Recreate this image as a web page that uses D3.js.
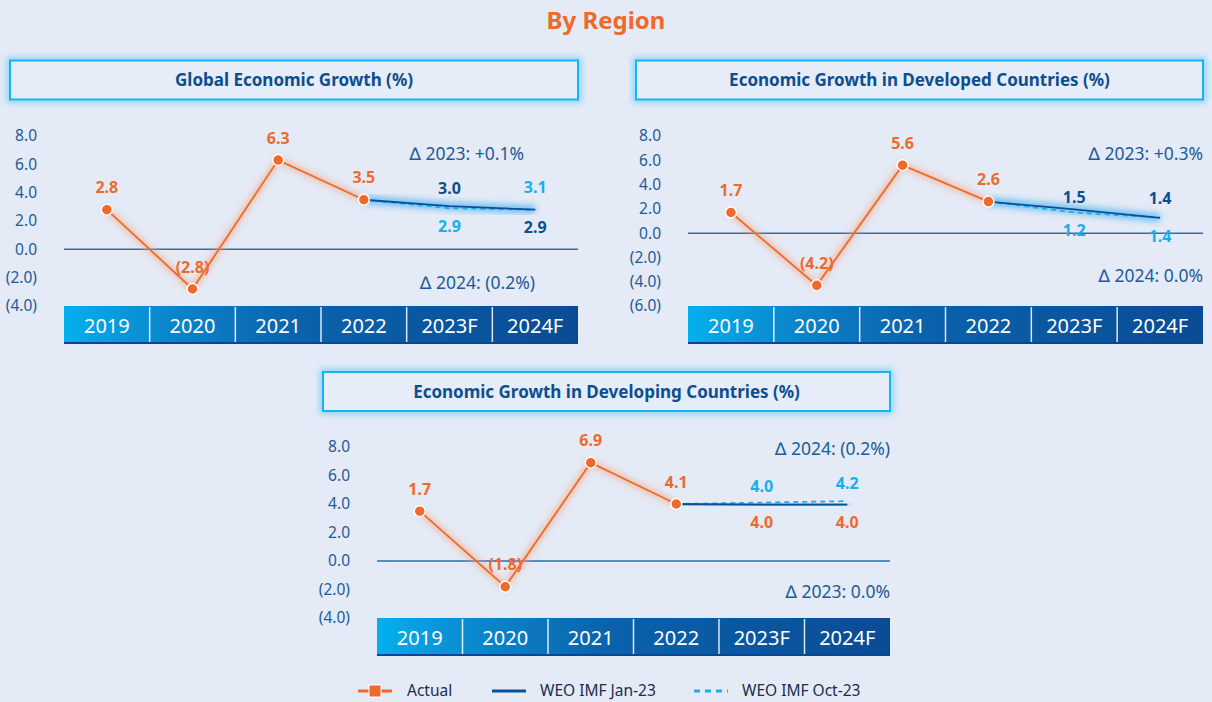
<!DOCTYPE html>
<html>
<head>
<meta charset="utf-8">
<script src="https://cdn.jsdelivr.net/npm/d3@7"></script>
<style>
	html, body { margin: 0; padding: 0; background: #e4eaf6; }
	svg { display: block; font-family: "Noto Sans", "DejaVu Sans", sans-serif; }
</style>
</head>
<body>
<div id="chart"></div>
<script>
// categories
var years = ['2019', '2020', '2021', '2022', '2023F', '2024F'];
var forecastYears = ['2022', '2023F', '2024F'];

// global
var globalTicks = [8, 6, 4, 2, 0, -2, -4];
var globalActual = [2.8, -2.8, 6.3, 3.5];
var globalActualLabels = ['2.8', '(2.8)', '6.3', '3.5'];
var globalJan = [3.5, 3.05, 2.8];
var globalOct = [3.5, 2.9, 2.8];
var globalTopLabels = [['3.0', 'jan'], ['3.1', 'oct']];
var globalBottomLabels = [['2.9', 'oct'], ['2.9', 'jan']];
var globalDeltas = ['\u2206 2023: +0.1%', '\u2206 2024: (0.2%)'];

// developed
var developedTicks = [8, 6, 4, 2, 0, -2, -4, -6];
var developedActual = [1.7, -4.3, 5.6, 2.6];
var developedActualLabels = ['1.7', '(4.2)', '5.6', '2.6'];
var developedJan = [2.6, 1.95, 1.25];
var developedOct = [2.6, 1.7, 1.3];
var developedTopLabels = [['1.5', 'jan'], ['1.4', 'jan']];
var developedBottomLabels = [['1.2', 'oct'], ['1.4', 'oct']];
var developedDeltas = ['\u2206 2023: +0.3%', '\u2206 2024: 0.0%'];

// developing
var developingTicks = [8, 6, 4, 2, 0, -2, -4];
var developingActual = [3.5, -1.8, 6.9, 4.0];
var developingActualLabels = ['1.7', '(1.8)', '6.9', '4.1'];
var developingJan = [4.0, 3.95, 3.95];
var developingOct = [4.0, 4.1, 4.2];
var developingTopLabels = [['4.0', 'oct'], ['4.2', 'oct']];
var developingBottomLabels = [['4.0', 'act'], ['4.0', 'act']];
var developingDeltas = ['\u2206 2024: (0.2%)', '\u2206 2023: 0.0%'];

var legendNames = ['Actual', 'WEO IMF Jan-23', 'WEO IMF Oct-23'];

var width = 1212;
var height = 702;
var orange = '#ee6a2b';
var darkBlue = '#0d4f8e';
var janBlue = '#0b4e9b';
var cyan = '#17b0ec';
var tickBlue = '#1d5b99';
var colorOf = {act: orange, jan: darkBlue, oct: cyan};

var svg = d3.select('#chart')
			.append('svg')
			.attr('width', width)
			.attr('height', height);

var defs = svg.append('defs');

var glow = defs.append('filter').attr('id', 'glow')
	.attr('x', '-20%').attr('y', '-50%').attr('width', '140%').attr('height', '200%');
glow.append('feGaussianBlur').attr('stdDeviation', 3);

var soft = defs.append('filter').attr('id', 'soft')
	.attr('x', '-10%').attr('y', '-200%').attr('width', '120%').attr('height', '500%');
soft.append('feGaussianBlur').attr('stdDeviation', 6);

var grad = defs.append('linearGradient').attr('id', 'band')
	.attr('x1', 0).attr('x2', 1).attr('y1', 0).attr('y2', 0);
grad.append('stop').attr('offset', '0%').attr('stop-color', '#03b0ee');
grad.append('stop').attr('offset', '20%').attr('stop-color', '#0b86cc');
grad.append('stop').attr('offset', '45%').attr('stop-color', '#0b62ac');
grad.append('stop').attr('offset', '100%').attr('stop-color', '#0a4b95');

// page title
svg.append('text')
	.attr('x', width / 2)
	.attr('y', 21)
	.attr('dy', '0.35em')
	.attr('text-anchor', 'middle')
	.attr('font-size', 24)
	.attr('font-weight', 'bold')
	.attr('fill', orange)
	.text('By Region');

function drawChart(c) {
	var g = svg.append('g');

	//header box
	g.append('rect')
		.attr('x', c.boxX).attr('y', c.boxY)
		.attr('width', c.boxW).attr('height', 39)
		.attr('fill', 'none')
		.attr('stroke', '#7fd3f5')
		.attr('stroke-width', 6)
		.attr('filter', 'url(#glow)');
	g.append('rect')
		.attr('x', c.boxX).attr('y', c.boxY)
		.attr('width', c.boxW).attr('height', 39)
		.attr('fill', '#e6ecf8')
		.attr('stroke', '#17b4ef')
		.attr('stroke-width', 2);
	g.append('text')
		.attr('x', c.boxX + c.boxW / 2)
		.attr('y', c.boxY + 20)
		.attr('dy', '0.35em')
		.attr('text-anchor', 'middle')
		.attr('font-size', 17)
		.attr('font-weight', 'bold')
		.attr('fill', darkBlue)
		.text(c.title);

	//scales
	var x_scale = d3.scaleBand()
		.domain(years)
		.range([c.left, c.right]);
	var y_scale = d3.scaleLinear()
		.domain([d3.min(c.ticks), d3.max(c.ticks)])
		.range([c.bandTop, c.top]);
	var cx = function(d) { return x_scale(d) + x_scale.bandwidth() / 2; };

	//tick labels
	g.selectAll('.tick')
		.data(c.ticks)
		.enter()
		.append('text')
		.attr('x', c.left - 27)
		.attr('y', function(d) { return y_scale(d); })
		.attr('dy', '0.35em')
		.attr('text-anchor', 'end')
		.attr('font-size', 15.5)
		.attr('fill', tickBlue)
		.text(function(d) {
			return d < 0 ? '(' + Math.abs(d).toFixed(1) + ')' : d.toFixed(1);
		});

	//zero line
	g.append('line')
		.attr('x1', c.left - 40).attr('x2', c.right)
		.attr('y1', y_scale(0)).attr('y2', y_scale(0))
		.attr('stroke', '#f4f7fd')
		.attr('stroke-width', 16)
		.attr('filter', 'url(#soft)');
	g.append('line')
		.attr('x1', c.left).attr('x2', c.right)
		.attr('y1', y_scale(0)).attr('y2', y_scale(0))
		.attr('stroke', '#2f6ea9')
		.attr('stroke-width', 1.5);

	//year band
	g.append('rect')
		.attr('x', c.left).attr('y', c.bandTop)
		.attr('width', c.right - c.left).attr('height', 38)
		.attr('fill', 'url(#band)');
	g.append('line')
		.attr('x1', c.left).attr('x2', c.right)
		.attr('y1', c.bandTop + 37).attr('y2', c.bandTop + 37)
		.attr('stroke', '#0a4790').attr('stroke-width', 2);
	g.selectAll('.sep')
		.data(years.slice(1))
		.enter()
		.append('line')
		.attr('x1', function(d) { return x_scale(d); })
		.attr('x2', function(d) { return x_scale(d); })
		.attr('y1', c.bandTop + 1)
		.attr('y2', c.bandTop + 36)
		.attr('stroke', '#ffffff')
		.attr('stroke-opacity', 0.85)
		.attr('stroke-width', 1.5);
	g.selectAll('.year')
		.data(years)
		.enter()
		.append('text')
		.attr('x', cx)
		.attr('y', c.bandTop + 20)
		.attr('dy', '0.36em')
		.attr('text-anchor', 'middle')
		.attr('font-size', 20)
		.attr('fill', '#ffffff')
		.text(function(d) { return d; });

	//forecast lines
	var fLine = d3.line()
		.x(function(d, i) { return cx(forecastYears[i]); })
		.y(function(d) { return y_scale(d); });

	g.append('path').attr('d', fLine(c.jan))
		.attr('fill', 'none').attr('stroke', '#4fb4ee')
		.attr('stroke-width', 8).attr('stroke-opacity', 0.8)
		.attr('filter', 'url(#glow)');
	g.append('path').attr('d', fLine(c.oct))
		.attr('fill', 'none').attr('stroke', cyan)
		.attr('stroke-width', 1.8).attr('stroke-dasharray', '5,4');
	g.append('path').attr('d', fLine(c.jan))
		.attr('fill', 'none').attr('stroke', janBlue)
		.attr('stroke-width', 1.8);

	//actual line
	var aLine = d3.line()
		.x(function(d, i) { return cx(years[i]); })
		.y(function(d) { return y_scale(d); });

	g.append('path').attr('d', aLine(c.actual))
		.attr('fill', 'none').attr('stroke', '#f7a074')
		.attr('stroke-width', 6).attr('stroke-opacity', 0.6)
		.attr('filter', 'url(#glow)');
	g.append('path').attr('d', aLine(c.actual))
		.attr('fill', 'none').attr('stroke', orange)
		.attr('stroke-width', 1.8);

	g.selectAll('.dot')
		.data(c.actual)
		.enter()
		.append('circle')
		.attr('cx', function(d, i) { return cx(years[i]); })
		.attr('cy', function(d) { return y_scale(d); })
		.attr('r', 5.5)
		.attr('fill', orange)
		.attr('stroke', '#ffffff')
		.attr('stroke-width', 1.5);

	g.selectAll('.alabel')
		.data(c.actual)
		.enter()
		.append('text')
		.attr('x', function(d, i) { return cx(years[i]); })
		.attr('y', function(d) { return y_scale(d) - 22; })
		.attr('dy', '0.35em')
		.attr('text-anchor', 'middle')
		.attr('font-size', 16)
		.attr('font-weight', 'bold')
		.attr('fill', orange)
		.text(function(d, i) { return c.actualLabels[i]; });

	//forecast labels
	g.selectAll('.tlabel')
		.data(c.topLabels)
		.enter()
		.append('text')
		.attr('x', function(d, i) { return cx(forecastYears[i + 1]); })
		.attr('y', function(d) { return y_scale(+d[0]) - 18; })
		.attr('dy', '0.35em')
		.attr('text-anchor', 'middle')
		.attr('font-size', 16)
		.attr('font-weight', 'bold')
		.attr('fill', function(d) { return colorOf[d[1]]; })
		.text(function(d) { return d[0]; });

	g.selectAll('.blabel')
		.data(c.bottomLabels)
		.enter()
		.append('text')
		.attr('x', function(d, i) { return cx(forecastYears[i + 1]); })
		.attr('y', function(d, i) {
			return y_scale(Math.min(c.jan[i + 1], c.oct[i + 1])) + 18;
		})
		.attr('dy', '0.35em')
		.attr('text-anchor', 'middle')
		.attr('font-size', 16)
		.attr('font-weight', 'bold')
		.attr('fill', function(d) { return colorOf[d[1]]; })
		.text(function(d) { return d[0]; });

	//delta notes
	g.selectAll('.delta')
		.data(c.deltas)
		.enter()
		.append('text')
		.attr('x', function(d, i) { return c.deltaX[i]; })
		.attr('y', function(d, i) { return c.deltaY[i]; })
		.attr('dy', '0.35em')
		.attr('text-anchor', 'end')
		.attr('font-size', 17.5)
		.attr('fill', tickBlue)
		.text(function(d) { return d; });
}

drawChart({
	title: 'Global Economic Growth (%)',
	boxX: 10, boxY: 60.5, boxW: 568,
	left: 64, right: 578, top: 136, bandTop: 306,
	ticks: globalTicks,
	actual: globalActual, actualLabels: globalActualLabels,
	jan: globalJan, oct: globalOct,
	topLabels: globalTopLabels, bottomLabels: globalBottomLabels,
	deltas: globalDeltas, deltaX: [524, 535], deltaY: [154, 283]
});

drawChart({
	title: 'Economic Growth in Developed Countries (%)',
	boxX: 636, boxY: 60.5, boxW: 567,
	left: 688, right: 1203, top: 136, bandTop: 306,
	ticks: developedTicks,
	actual: developedActual, actualLabels: developedActualLabels,
	jan: developedJan, oct: developedOct,
	topLabels: developedTopLabels, bottomLabels: developedBottomLabels,
	deltas: developedDeltas, deltaX: [1203, 1203], deltaY: [154, 276]
});

drawChart({
	title: 'Economic Growth in Developing Countries (%)',
	boxX: 323, boxY: 372, boxW: 567,
	left: 377, right: 890, top: 447, bandTop: 618,
	ticks: developingTicks,
	actual: developingActual, actualLabels: developingActualLabels,
	jan: developingJan, oct: developingOct,
	topLabels: developingTopLabels, bottomLabels: developingBottomLabels,
	deltas: developingDeltas, deltaX: [890, 890], deltaY: [449, 592]
});

//legend
var legend = svg.append('g').attr('transform', 'translate(0,691)');
legend.append('line')
	.attr('x1', 358).attr('x2', 392).attr('y1', 0).attr('y2', 0)
	.attr('stroke', orange).attr('stroke-width', 3);
legend.append('rect')
	.attr('x', 369).attr('y', -6).attr('width', 12).attr('height', 12)
	.attr('fill', orange).attr('stroke', '#ffffff').attr('stroke-width', 1);
legend.append('line')
	.attr('x1', 492).attr('x2', 526).attr('y1', 0).attr('y2', 0)
	.attr('stroke', janBlue).attr('stroke-width', 3);
legend.append('line')
	.attr('x1', 694).attr('x2', 728).attr('y1', 0).attr('y2', 0)
	.attr('stroke', cyan).attr('stroke-width', 3)
	.attr('stroke-dasharray', '6,5');
legend.selectAll('.lname')
	.data(legendNames)
	.enter()
	.append('text')
	.attr('x', function(d, i) { return [407, 540, 742][i]; })
	.attr('y', 0)
	.attr('dy', '0.35em')
	.attr('font-size', 15.5)
	.attr('fill', '#1b2d4d')
	.text(function(d) { return d; });
</script>
</body>
</html>
